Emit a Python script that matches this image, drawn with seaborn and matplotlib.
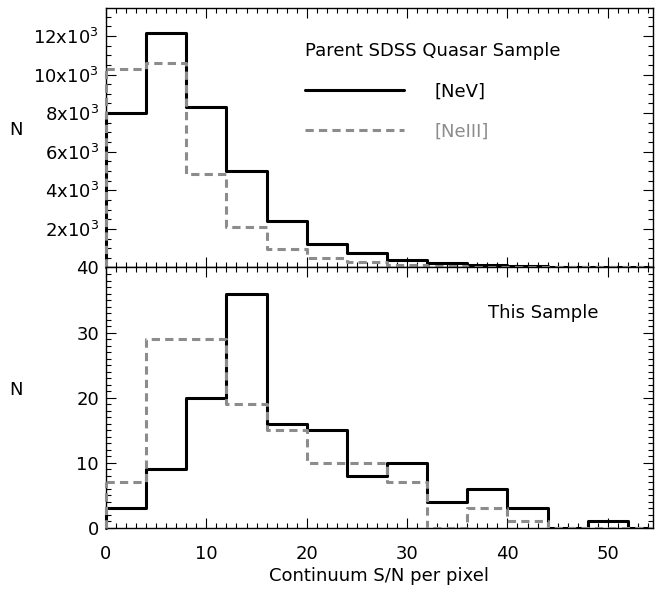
import numpy as np
import pandas as pd
import matplotlib
matplotlib.use("Agg")
import matplotlib.pyplot as plt
from matplotlib.lines import Line2D
from matplotlib.ticker import FixedLocator, MultipleLocator, FuncFormatter
import seaborn as sns

# ---------------- data (binned counts, bin width 4 in S/N) ----------------
bin_left = [0, 4, 8, 12, 16, 20, 24, 28, 32, 36, 40, 44, 48, 52]

parent_nev = [8010, 12150, 8300, 5020, 2430, 1220, 740, 395, 220, 130, 80, 50, 30, 20]
parent_ne3 = [10270, 10620, 4850, 2120, 950, 510, 300, 150, 80, 40, 20, 10, 5, 3]

sample_nev = [3, 9, 20, 36, 16, 15, 8, 10, 4, 6, 3, 0, 1, 0]
sample_ne3 = [7, 29, 29, 19, 15, 10, 10, 7, 0, 3, 1, 0, 0, 0]

top_yticks = [2000, 4000, 6000, 8000, 10000, 12000]
bot_yticks = [0, 10, 20, 30, 40]
x_ticks = [0, 10, 20, 30, 40, 50]

BINW = 4
GRAY = "#8c8c8c"
LW = 2.2
DASH = (0, (2.7, 1.7))
FS = 13

sns.set_style("ticks")
plt.rcParams["font.family"] = ["DejaVu Sans"]
plt.rcParams["mathtext.fontset"] = "dejavusans"
plt.rcParams["text.color"] = "black"
plt.rcParams["axes.labelcolor"] = "black"
plt.rcParams["xtick.color"] = "black"
plt.rcParams["ytick.color"] = "black"

fig = plt.figure(figsize=(6.62, 5.91), dpi=100)
ax_top = fig.add_axes([0.1601, 0.5474, 0.8263, 0.4391])
ax_bot = fig.add_axes([0.1601, 0.1066, 0.8263, 0.4408])

def draw(ax, nev, ne3):
    df = pd.DataFrame({"x": np.array(bin_left) + BINW / 2, "nev": nev, "ne3": ne3})
    binrange = (bin_left[0], bin_left[-1] + BINW)
    sns.histplot(data=df, x="x", weights="ne3", binwidth=BINW, binrange=binrange,
                 element="step", fill=False, color=GRAY, linewidth=LW,
                 linestyle=DASH, ax=ax, zorder=3)
    sns.histplot(data=df, x="x", weights="nev", binwidth=BINW, binrange=binrange,
                 element="step", fill=False, color="black", linewidth=LW,
                 ax=ax, zorder=2)
    # left edge risers of the histograms
    ax.plot([bin_left[0], bin_left[0]], [0, nev[0]], color="black", lw=LW,
            zorder=2, clip_on=False)
    ax.plot([bin_left[0], bin_left[0]], [0, ne3[0]], color=GRAY, lw=LW,
            ls=DASH, zorder=3, clip_on=False)

draw(ax_top, parent_nev, parent_ne3)
draw(ax_bot, sample_nev, sample_ne3)

for ax in (ax_top, ax_bot):
    ax.set_xlim(0, 54.5)
    ax.xaxis.set_major_locator(FixedLocator(x_ticks))
    ax.xaxis.set_minor_locator(MultipleLocator(1))
    ax.tick_params(which="both", direction="in", top=True, right=True,
                   width=0.8, colors="black", labelsize=FS)
    ax.tick_params(which="major", length=7.2)
    ax.tick_params(which="minor", length=3.6)
    ax.tick_params(axis="y", pad=5)
    ax.tick_params(axis="x", pad=12)
    for s in ax.spines.values():
        s.set_linewidth(1.0)
        s.set_color("black")
    ax.set_ylabel("N", rotation=0, fontsize=FS, va="center", ha="center")
    ax.yaxis.set_label_coords(-0.165, 0.53)

ax_top.set_ylim(0, 13450)
ax_top.yaxis.set_major_locator(FixedLocator(top_yticks))
ax_top.yaxis.set_minor_locator(MultipleLocator(500))
ax_top.yaxis.set_major_formatter(FuncFormatter(lambda v, p: f"{int(round(v / 1000))}x10$^3$"))
ax_top.tick_params(axis="x", labelbottom=False)
ax_top.set_xlabel("")

ax_bot.set_ylim(0, 40)
ax_bot.yaxis.set_major_locator(FixedLocator(bot_yticks))
ax_bot.yaxis.set_minor_locator(MultipleLocator(1))
ax_bot.set_xlabel("Continuum S/N per pixel", fontsize=FS, labelpad=3)

# legend
handles = [Line2D([], [], color="black", lw=LW),
           Line2D([], [], color=GRAY, lw=LW, ls=DASH)]
leg = ax_top.legend(handles, ["[NeV]", "[NeIII]"], title="Parent SDSS Quasar Sample",
                    loc="upper left", bbox_to_anchor=(0.364, 0.868), frameon=False,
                    handlelength=5.5, handletextpad=1.65, labelspacing=1.22,
                    alignment="left", fontsize=FS, title_fontsize=FS,
                    borderpad=0, borderaxespad=0)
leg.get_title().set_color("black")
leg.get_texts()[0].set_color("black")
leg.get_texts()[1].set_color(GRAY)

ax_bot.text(0.80, 0.825, "This Sample", transform=ax_bot.transAxes,
            ha="center", va="center", fontsize=FS, color="black")

fig.savefig("out.png", dpi=100)
